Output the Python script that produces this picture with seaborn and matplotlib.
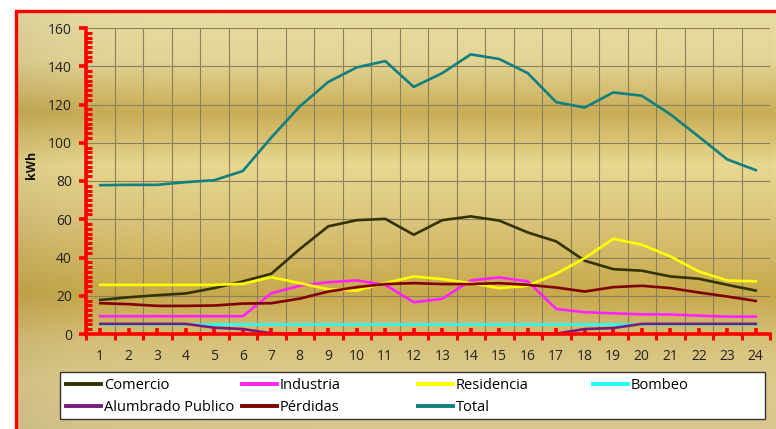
import numpy as np
import pandas as pd
import matplotlib
matplotlib.use("Agg")
import matplotlib.pyplot as plt
import seaborn as sns
from matplotlib.colors import to_rgb
from matplotlib.lines import Line2D
from matplotlib.patches import Rectangle
from matplotlib.ticker import MultipleLocator, FixedLocator

hours = list(range(1, 25))
comercio = [17.8, 19.2, 20.3, 21.2, 24.0, 27.5, 31.5, 44.4, 56.3, 59.5, 60.2, 51.9,
            59.5, 61.5, 59.3, 53.1, 48.4, 38.3, 33.9, 33.1, 30.1, 28.9, 25.7, 22.7]
industria = [9.3, 9.3, 9.3, 9.3, 9.3, 9.3, 21.3, 25.2, 27.1, 28.0, 25.7, 16.6,
             18.4, 28.0, 29.6, 27.5, 13.1, 11.4, 10.8, 10.3, 10.2, 9.6, 9.1, 9.1]
residencia = [25.7, 25.7, 25.7, 25.7, 25.7, 26.2, 29.7, 26.6, 23.4, 22.7, 26.6, 30.1,
              28.7, 26.6, 24.0, 25.2, 31.5, 39.7, 49.8, 46.7, 40.6, 32.7, 28.0, 27.5]
bombeo = [5.0] * 24
alumbrado = [5.3, 5.3, 5.3, 5.3, 3.3, 2.6, 0.4, 0.2, 0.2, 0.2, 0.2, 0.2,
             0.2, 0.2, 0.2, 0.2, 0.2, 2.6, 3.1, 5.3, 5.3, 5.3, 5.3, 5.3]
perdidas = [16.1, 15.6, 14.7, 14.7, 14.9, 15.9, 16.1, 18.5, 22.2, 24.5, 26.1, 26.6,
            26.1, 26.1, 26.6, 25.7, 24.3, 22.2, 24.5, 25.2, 24.0, 21.7, 19.6, 17.3]
total = [77.8, 78.0, 78.0, 79.4, 80.4, 85.2, 102.7, 119.0, 131.8, 139.4, 142.7, 129.2,
         136.4, 146.2, 143.8, 136.4, 121.2, 118.4, 126.3, 124.6, 114.9, 103.2, 91.3, 85.7]

series_names = ["Comercio", "Industria", "Residencia", "Bombeo",
                "Alumbrado Publico", "Pérdidas", "Total"]
series_values = [comercio, industria, residencia, bombeo, alumbrado, perdidas, total]
colors = ["#333300", "#ff22ff", "#ffff00", "#22ffff", "#7a1a7a", "#800000", "#0f7f7f"]
y_ticks = [0, 20, 40, 60, 80, 100, 120, 140, 160]

df = pd.DataFrame({
    "hora": np.tile(hours, len(series_names)),
    "kWh": np.concatenate(series_values),
    "serie": np.repeat(series_names, len(hours)),
})

W, H = 776, 429
fig = plt.figure(figsize=(W / 100, H / 100), dpi=100)
fig.patch.set_facecolor("white")

# gradient background inside red frame
bg = fig.add_axes([16 / W, 0, 1 - 16 / W, 1 - 11 / H], zorder=-10)
stops = [(11, "#e8dda4"), (60, "#e3d596"), (112, "#c9ad56"), (165, "#e8d890"),
         (220, "#dbc57c"), (260, "#d0b660"), (295, "#c8a94c"), (340, "#d6c17a"),
         (380, "#ddcb8c"), (429, "#d8c68e")]
ys = np.arange(11, 430)
cols = np.zeros((len(ys), 1, 3))
sp = np.array([s[0] for s in stops], float)
for c in range(3):
    vals = np.array([to_rgb(s[1])[c] for s in stops])
    cols[:, 0, c] = np.interp(ys, sp, vals)
img = np.repeat(cols, 50, axis=1)
xs = np.linspace(0, 1, 50)
shade = 1 - 0.05 * np.exp(-xs * 12)
img = img * shade[None, :, None]
bg.imshow(img, aspect="auto", extent=[0, 1, 0, 1], origin="upper")
bg.axis("off")

# red frame
fig.patches.append(Rectangle((16 / W, -0.1), 1.2, 1 - 11 / H + 0.1,
                             transform=fig.transFigure, fill=False,
                             edgecolor="#ff0000", linewidth=2.4, zorder=-5))

ax = fig.add_axes([86 / W, 1 - 334 / H, (770 - 86) / W, (334 - 28) / H])
ax.patch.set_alpha(0)

sns.lineplot(data=df, x="hora", y="kWh", hue="serie", hue_order=series_names,
             palette=dict(zip(series_names, colors)), linewidth=1.9,
             ax=ax, legend=False, zorder=3)

ax.set_xlim(0.5, 24.5)
ax.set_ylim(0, 160)
ax.set_xlabel("")
ax.set_ylabel("")

ax.set_xticks(hours)
ax.set_xticklabels([str(h) for h in hours])
ax.xaxis.set_minor_locator(FixedLocator(np.arange(0.5, 25, 1)))
ax.set_yticks(y_ticks)
ax.yaxis.set_minor_locator(MultipleLocator(2.5))

grid_c = "#8c805c"
ax.grid(False)
for xv in np.arange(1.5, 25, 1):
    ax.axvline(xv, color=grid_c, lw=0.8, zorder=1)
for yv in y_ticks[1:]:
    ax.axhline(yv, color=grid_c, lw=0.8, zorder=1)

for s in ["top", "right"]:
    ax.spines[s].set_visible(False)
for s in ["left", "bottom"]:
    ax.spines[s].set_color("#ff0000")
    ax.spines[s].set_linewidth(2.6)
    ax.spines[s].set_zorder(4)

font = "Open Sans"
ax.tick_params(axis="y", which="major", direction="out", length=5, width=2.6,
               color="#ff0000", pad=5, labelsize=10, labelcolor="#222222")
ax.tick_params(axis="y", which="minor", direction="in", length=4, width=2.2,
               color="#ff0000")
ax.tick_params(axis="x", which="major", direction="in", length=4, width=2.6,
               color="#ff0000", pad=11, labelsize=10, labelcolor="#222222")
ax.tick_params(axis="x", which="minor", direction="out", length=4, width=2.2,
               color="#ff0000")
for lab in ax.get_xticklabels() + ax.get_yticklabels():
    lab.set_fontfamily(font)

fig.text(32 / W, 1 - 165 / H, "kWh", rotation=90, ha="center", va="center",
         fontsize=9, fontweight="bold", family=font, color="#111111")

# legend frame
fig.patches.append(Rectangle((60 / W, 1 - 419 / H), (765 - 60) / W, 47 / H,
                             transform=fig.transFigure, facecolor="white",
                             edgecolor="#333333", linewidth=1.0, zorder=5))

# legend: one column each, positioned like the reference
columns = [[0, 4], [1, 5], [2, 6], [3]]
col_x = [66, 242, 418, 593]
for idxs, x0 in zip(columns, col_x):
    handles = [Line2D([], [], color=colors[i], lw=2.8) for i in idxs]
    labels = [series_names[i] for i in idxs]
    lg = fig.legend(handles, labels, loc="upper left",
                    bbox_to_anchor=(x0 / W, 1 - 378 / H), frameon=False,
                    prop={"family": font, "size": 10.5}, handlelength=2.4,
                    handletextpad=0.2, borderaxespad=0, borderpad=0,
                    labelspacing=0.5)
    lg.set_zorder(6)

fig.savefig("out.png", dpi=100)
